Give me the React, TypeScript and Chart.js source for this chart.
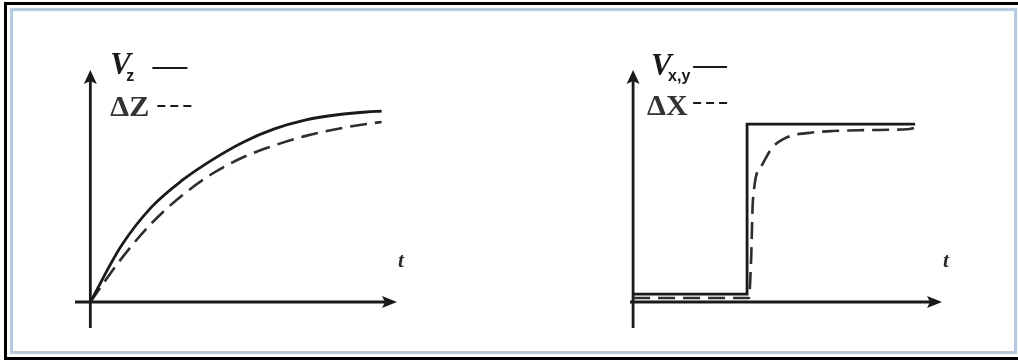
import { useEffect, useRef } from "react";
import { Chart, registerables } from "chart.js";

Chart.register(...registerables);

// Vertical channel: velocity V_z (solid) and displacement ΔZ (dashed) over time
const zTime = [0, 1, 2, 3, 4, 5, 6, 7, 8, 9, 9.5];
const zVelocity = [0, 0.24, 0.41, 0.525, 0.615, 0.69, 0.746, 0.784, 0.806, 0.819, 0.823];
const zDisplacement = [0, 0.185, 0.34, 0.46, 0.555, 0.625, 0.675, 0.715, 0.745, 0.767, 0.776];

// Horizontal channel: velocity V_x,y steps, displacement ΔX follows with a lag
const xyVelTime = [0, 3.69, 3.69, 9.13];
const xyVelocity = [0.034, 0.034, 0.767, 0.767];
const xyDispTime = [0, 3.75, 3.82, 3.88, 4.17, 4.5, 5, 5.63, 6.47, 7.57, 8.96, 9.13];
const xyDisplacement = [0.017, 0.017, 0.18, 0.44, 0.59, 0.664, 0.711, 0.728, 0.737, 0.741, 0.746, 0.75];

const axisLabel = "t";

const INK = "#1a1a1a";
const SERIF = "'Liberation Serif', 'DejaVu Serif', serif";
const SANS = "'Liberation Sans', 'DejaVu Sans', sans-serif";

type LegendSpec = {
  symbol: string;
  sub: string;
  delta: string;
  vX: number;
  vY: number;
  subX: number;
  subY: number;
  lineX: number;
  lineY: number;
  deltaX: number;
  deltaY: number;
  dashX: number;
  dashY: number;
  sampleW: number;
};

type PanelSpec = {
  solidT: number[];
  solidV: number[];
  dashT: number[];
  dashV: number[];
  xMin: number;
  padding: { left: number; right: number; top: number; bottom: number };
  legend: LegendSpec;
};

const zip = (xs: number[], ys: number[]) => xs.map((x, i) => ({ x, y: ys[i] }));

const axesPlugin = (legend: LegendSpec) => ({
  id: "arrowAxes",
  beforeDatasetsDraw(chart: any) {
    const { ctx, chartArea, scales } = chart;
    const ox = scales.x.getPixelForValue(0);
    const oy = scales.y.getPixelForValue(0);
    ctx.save();
    ctx.strokeStyle = INK;
    ctx.fillStyle = INK;
    ctx.lineWidth = 2.8;
    // horizontal axis
    ctx.beginPath();
    ctx.moveTo(chartArea.left, oy);
    ctx.lineTo(chartArea.right - 10, oy);
    ctx.stroke();
    ctx.beginPath();
    ctx.moveTo(chartArea.right, oy);
    ctx.lineTo(chartArea.right - 15, oy - 6);
    ctx.lineTo(chartArea.right - 12, oy);
    ctx.lineTo(chartArea.right - 15, oy + 6);
    ctx.closePath();
    ctx.fill();
    // vertical axis
    ctx.beginPath();
    ctx.moveTo(ox, chartArea.bottom);
    ctx.lineTo(ox, chartArea.top + 10);
    ctx.stroke();
    ctx.beginPath();
    ctx.moveTo(ox, chartArea.top);
    ctx.lineTo(ox - 6.5, chartArea.top + 14);
    ctx.lineTo(ox, chartArea.top + 11);
    ctx.lineTo(ox + 6.5, chartArea.top + 14);
    ctx.closePath();
    ctx.fill();
    ctx.restore();
  },
  afterDatasetsDraw(chart: any) {
    const { ctx, chartArea, scales } = chart;
    const ox = scales.x.getPixelForValue(0);
    const oy = scales.y.getPixelForValue(0);
    ctx.save();
    ctx.fillStyle = "#2a2a2a";
    ctx.textBaseline = "alphabetic";
    ctx.textAlign = "left";
    // time label
    ctx.font = `italic bold 21px ${SERIF}`;
    ctx.fillText(axisLabel, chartArea.right + 1, oy - 35);

    // legend: velocity symbol
    ctx.fillStyle = INK;
    ctx.font = `italic bold 31px ${SERIF}`;
    ctx.fillText(legend.symbol, ox + legend.vX, legend.vY);
    ctx.font = `bold 16px ${SANS}`;
    ctx.fillText(legend.sub, ox + legend.subX, legend.subY);
    ctx.strokeStyle = INK;
    ctx.lineWidth = 2;
    ctx.beginPath();
    ctx.moveTo(ox + legend.lineX, legend.lineY);
    ctx.lineTo(ox + legend.lineX + legend.sampleW, legend.lineY);
    ctx.stroke();

    // legend: displacement symbol
    ctx.fillStyle = "#333";
    ctx.font = `bold 30px ${SERIF}`;
    ctx.fillText(legend.delta, ox + legend.deltaX, legend.deltaY);
    ctx.setLineDash([8, 5]);
    ctx.beginPath();
    ctx.moveTo(ox + legend.dashX, legend.dashY);
    ctx.lineTo(ox + legend.dashX + legend.sampleW, legend.dashY);
    ctx.stroke();
    ctx.restore();
  },
});

function Panel({ spec, left }: { spec: PanelSpec; left: number }) {
  const ref = useRef<HTMLCanvasElement | null>(null);
  useEffect(() => {
    if (!ref.current) return;
    const chart = new Chart(ref.current, {
      type: "line",
      data: {
        datasets: [
          {
            data: zip(spec.solidT, spec.solidV),
            borderColor: INK,
            borderWidth: 2.8,
            pointRadius: 0,
            fill: false,
            cubicInterpolationMode: "monotone",
          },
          {
            data: zip(spec.dashT, spec.dashV),
            borderColor: "#2e2e2e",
            borderWidth: 2.6,
            borderDash: [17, 8],
            pointRadius: 0,
            fill: false,
            cubicInterpolationMode: "monotone",
          },
        ],
      },
      options: {
        animation: false,
        responsive: false,
        maintainAspectRatio: false,
        layout: { padding: spec.padding },
        plugins: { legend: { display: false }, tooltip: { enabled: false } },
        scales: {
          x: { type: "linear", min: spec.xMin, max: 10, display: false },
          y: { type: "linear", min: -0.112, max: 1, display: false },
        },
      },
      plugins: [axesPlugin(spec.legend)],
    });
    return () => chart.destroy();
  }, [spec]);
  return (
    <canvas
      ref={ref}
      width={509}
      height={360}
      style={{ position: "absolute", left, top: 0, width: 509, height: 360 }}
    />
  );
}

const leftPanel: PanelSpec = {
  solidT: zTime,
  solidV: zVelocity,
  dashT: zTime,
  dashV: zDisplacement,
  xMin: -0.5,
  padding: { left: 75, right: 112, top: 70, bottom: 32 },
  legend: {
    symbol: "V",
    sub: "z",
    delta: "ΔZ",
    vX: 20,
    vY: 74,
    subX: 36,
    subY: 81,
    lineX: 62,
    lineY: 68,
    deltaX: 20,
    deltaY: 116,
    dashX: 67,
    dashY: 106,
    sampleW: 35,
  },
};

const rightPanel: PanelSpec = {
  solidT: xyVelTime,
  solidV: xyVelocity,
  dashT: xyDispTime,
  dashV: xyDisplacement,
  xMin: -0.1,
  padding: { left: 121, right: 76, top: 70, bottom: 32 },
  legend: {
    symbol: "V",
    sub: "x,y",
    delta: "ΔX",
    vX: 18,
    vY: 75,
    subX: 35,
    subY: 81,
    lineX: 60,
    lineY: 67,
    deltaX: 14,
    deltaY: 115,
    dashX: 60,
    dashY: 103,
    sampleW: 34,
  },
};

export default function App() {
  return (
    <div
      style={{
        position: "fixed",
        left: 0,
        top: 0,
        width: 1018,
        height: 360,
        background: "#fff",
        overflow: "hidden",
      }}
    >
      <div
        style={{
          position: "absolute",
          left: 4,
          top: 2,
          width: 1030,
          height: 358,
          boxSizing: "border-box",
          borderTop: "3px solid #000",
          borderLeft: "3px solid #000",
          borderBottom: "3px solid #000",
        }}
      />
      <div
        style={{
          position: "absolute",
          left: 10,
          top: 8,
          width: 1007,
          height: 346,
          boxSizing: "border-box",
          border: "3px solid #b6cae4",
        }}
      />
      <Panel spec={leftPanel} left={0} />
      <Panel spec={rightPanel} left={509} />
    </div>
  );
}
